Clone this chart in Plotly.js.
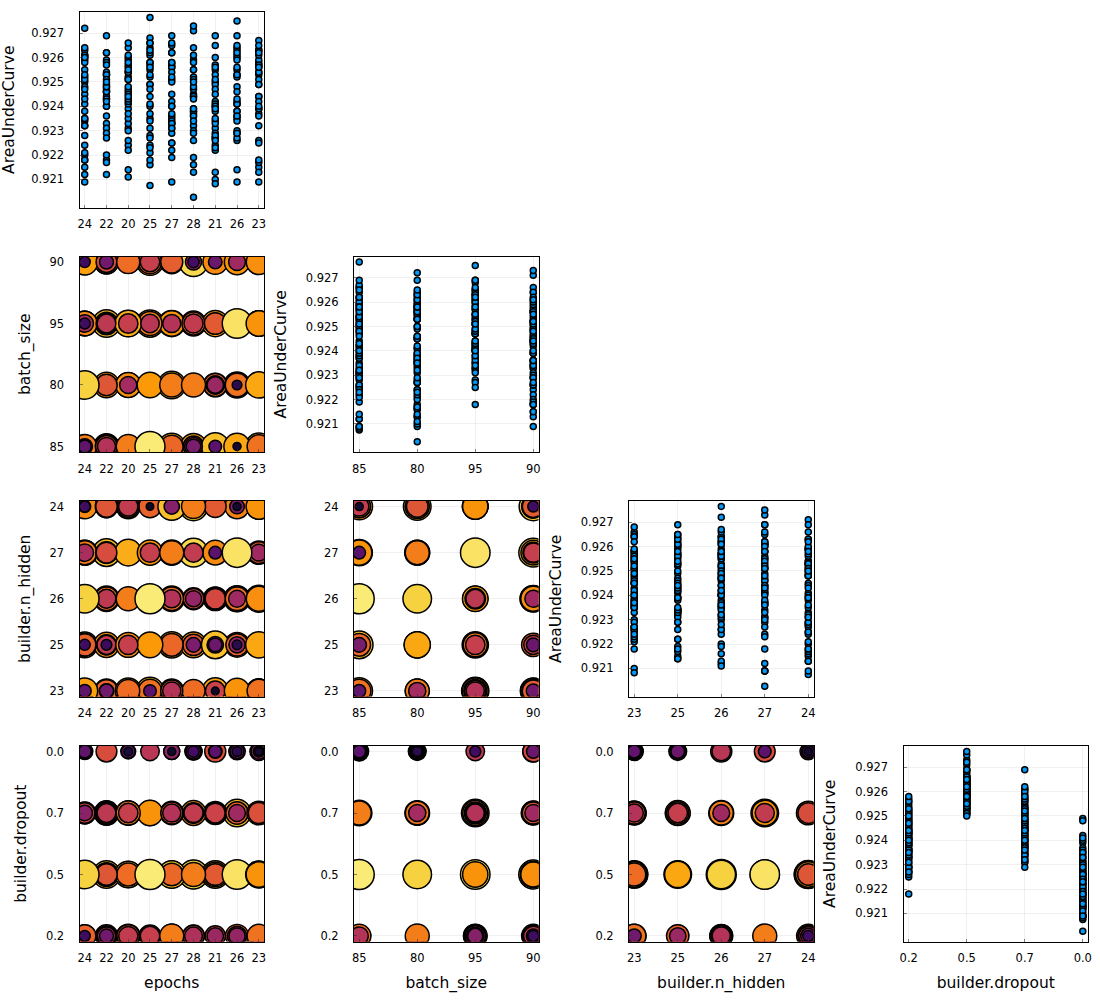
<!DOCTYPE html>
<html><head><meta charset="utf-8">
<script src="https://cdn.plot.ly/plotly-3.0.1.min.js"></script>
<style>body{margin:0;background:#fff}#chart{width:1100px;height:1000px}</style>
</head><body><div id="chart"></div>
<script>
const epochs = [23,26,21,28,27,25,20,22,24, 23,26,21,28,27,25,20,22,24, 23,26,21,28,27,25,20,22,24, 23,26,21,28,27,25,20,22,24,
 23,26,21,28,27,25,20,22,24, 23,26,21,28,27,25,20,22,24, 23,26,21,28,27,25,20,22,24, 23,26,21,28,27,25,20,22,24,
 23,26,21,28,27,25,20,22,24, 23,26,21,28,27,25,20,22,24, 23,26,21,28,27,25,20,22,24, 23,
 24,22,20,25,27,28,21,26,23,24, 22,20,25,27,28,21,26,23,24,22, 20,25,27,28,21,26,23,24,22,20, 25,27,28,21,26,23,24,22,20,25,
 27,28,21,26,23,24,22,20,25,27, 28,21,26,23,24,22,20,25,27,28, 21,26,23,24,22,20,25,27,28,21, 26,23,24,22,20,25,27,28,21,26,
 23,24,22,20,25,27,28,21,26,23, 24,22,20,25,27,28,21,26,23,24, 22,20,25,27,28,21,26,23,24,22, 20,25,27,28,21,26,23,24,22,20,
 25,27,28,21,26,23,24,22,20,25, 27,28,21,26,23,24,22,20,25,27, 28,21,26,23,24,22,20,25,27,28, 21,26,23,24,22,20,25,27,28,21,
 26,23,24,22,20,25,27,28,21,26, 23,24,22,20,25,27,28,21,26,23, 22,20,25,27,28,21,26,23,24,22, 20,25,27,28,21,26,23,24,22,24];
const batchSize = [90,95,80,85,90,95,80,85,90,95, 80,85,90,95,80,85,90,95,80,85, 90,95,80,85,90,95,80,85,90,95, 80,85,90,95,80,85,90,95,80,85,
 90,95,80,85,90,95,80,85,90,95, 80,85,90,95,80,85,90,95,80,85, 90,95,80,85,90,95,80,85,90,95, 80,85,90,95,80,85,90,95,80,85,
 90,95,80,85,90,95,80,85,90,95, 80,85,90,95,80,85,90,95,80,85,
 85,80,95,90,85,80,95,90,80,90, 85,80,95,90,85,80,95,85,80,90, 85,80,95,90,85,80,95,95,80,90, 85,80,95,90,85,90,85,95,80,90,
 85,80,95,90,85,80,90,85,95,90, 85,80,95,80,90,85,95,80,85,90, 85,80,90,95,80,90,85,95,80,90, 85,95,80,90,85,90,80,95,80,90,
 85,90,95,80,85,90,85,95,80,90, 85,80,95,80,85,90,85,95,80,95, 85,90,95,80,85,90,85,95,80,90, 85,90,95,80,85,90,80,90,95,80,
 85,90,95,80,85,90,85,80,90,95, 85,90,95,80,85,95,85,80,90,80, 85,90,95,80,90,95,85,80,90,95, 85,80,90,85,80,95,85,95,80,90,
 85,95,80,90,80,95,85,90,80,90, 85,95,85,90,80,90,85,95,80,90, 95,85,90,80,95,90,95,80,85,90, 95,85,95,80,85,90,95,90,80,80];
const nHidden = [24,27,26,25,23,24,27,26,25,23, 24,27,26,25,23,24,27,26,25,23, 24,27,26,25,23,24,27,26,25,23, 24,27,26,25,23,24,27,26,25,23,
 24,27,26,25,23,24,27,26,25,23, 24,27,26,25,23,24,27,26,25,23, 24,27,26,25,23,24,27,26,25,23, 24,27,26,25,23,24,27,26,25,23,
 24,27,26,25,23,24,27,26,25,23, 24,27,26,25,23,24,27,26,25,23,
 23,25,26,27,24,23,25,26,27,24, 26,24,23,25,27,26,24,25,27,23, 25,24,26,24,27,23,24,26,24,27, 26,23,25,24,25,26,25,27,23,25,
 27,26,23,27,24,26,25,26,24,24, 25,27,23,23,27,23,24,27,26,23, 26,24,25,23,26,25,23,27,24,25, 26,27,24,24,27,26,25,26,23,25,
 26,25,23,27,25,23,26,27,27,24, 27,27,23,26,24,27,24,26,25,24, 24,26,27,26,23,26,23,26,23,26, 23,24,25,25,25,24,26,26,25,25,
 24,27,24,24,27,23,24,23,24,25, 23,26,26,25,27,27,27,26,23,24, 24,23,25,24,23,24,24,23,26,23, 23,26,27,26,25,27,27,24,27,27,
 24,23,25,27,23,26,25,25,25,23, 23,25,26,23,25,23,25,24,25,26, 26,26,27,27,27,25,27,25,23,23, 25,26,23,24,27,26,24,24,24,26];
const dropout = [0.0,0.7,0.5,0.2,0.7,0.0,0.2,0.5,0.0,0.7, 0.5,0.2,0.2,0.5,0.0,0.7,0.2,0.5,0.0,0.7, 0.0,0.5,0.2,0.7,0.7,0.2,0.5,0.0,0.5,0.2,
 0.7,0.0,0.5,0.2,0.0,0.7,0.5,0.2,0.7,0.0, 0.2,0.5,0.0,0.7,0.2,0.5,0.7,0.0,0.2,0.5, 0.0,0.2,0.7,0.5,0.5,0.0,0.2,0.7,0.0,0.5,
 0.7,0.2,0.0,0.5,0.2,0.7,0.0,0.5,0.7,0.2, 0.5,0.0,0.7,0.2,0.0,0.5,0.2,0.7,0.5,0.0, 0.2,0.7,0.5,0.0,0.7,0.2,0.5,0.0,0.2,0.7,
 0.0,0.5,0.2,0.7,0.5,0.0,0.7,0.2,0.5,0.0,
 0.2,0.5,0.7,0.0,0.5,0.7,0.2,0.0,0.2,0.7, 0.0,0.5,0.5,0.2,0.2,0.7,0.7,0.0,0.0,0.7, 0.0,0.2,0.5,0.5,0.5,0.2,0.5,0.2,0.2,0.7,
 0.7,0.0,0.7,0.0,0.5,0.7,0.5,0.5,0.2,0.0, 0.7,0.0,0.5,0.2,0.7,0.0,0.7,0.5,0.7,0.2, 0.5,0.2,0.0,0.5,0.5,0.2,0.2,0.0,0.0,0.2,
 0.7,0.5,0.2,0.7,0.7,0.0,0.2,0.5,0.0,0.5, 0.7,0.7,0.2,0.0,0.2,0.5,0.7,0.2,0.0,0.2, 0.5,0.0,0.5,0.7,0.7,0.2,0.7,0.7,0.0,0.0,
 0.5,0.2,0.5,0.2,0.0,0.5,0.2,0.5,0.7,0.5, 0.7,0.2,0.2,0.7,0.0,0.0,0.7,0.2,0.7,0.5, 0.0,0.5,0.0,0.2,0.5,0.2,0.0,0.7,0.2,0.5,
 0.0,0.0,0.7,0.7,0.5,0.5,0.0,0.0,0.7,0.5, 0.2,0.7,0.2,0.7,0.0,0.2,0.5,0.0,0.7,0.5, 0.2,0.7,0.2,0.7,0.5,0.7,0.2,0.0,0.7,0.5,
 0.0,0.5,0.2,0.7,0.0,0.5,0.7,0.2,0.0,0.5, 0.0,0.7,0.2,0.0,0.7,0.0,0.5,0.0,0.2,0.5, 0.2,0.0,0.2,0.5,0.5,0.7,0.7,0.5,0.0,0.5,
 0.7,0.7,0.2,0.2,0.7,0.0,0.5,0.5,0.0,0.2, 0.7,0.5,0.7,0.5,0.0,0.7,0.5,0.2,0.5,0.5];
const auc = [0.9215,0.9269,0.9257,0.9238,0.9236,0.9228,0.9246,0.9262,0.9234,0.9253, 0.9253,0.9231,0.9252,0.9265,0.9221,0.9231,0.9243,0.9259,0.9239,0.9248,
 0.9213,0.9255,0.9235,0.9257,0.9239,0.9249,0.9261,0.9226,0.9252,0.9227, 0.9245,0.9231,0.9264,0.9241,0.9218,0.9250,0.9256,0.9255,0.9234,0.9237,
 0.9233,0.9258,0.9224,0.9259,0.9245,0.9263,0.9241,0.9242,0.9239,0.9251, 0.9216,0.9251,0.9246,0.9260,0.9254,0.9229,0.9229,0.9232,0.9233,0.9266,
 0.9254,0.9247,0.9220,0.9257,0.9236,0.9238,0.9236,0.9262,0.9249,0.9257, 0.9253,0.9212,0.9244,0.9242,0.9227,0.9259,0.9234,0.9261,0.9256,0.9240,
 0.9248,0.9237,0.9264,0.9222,0.9251,0.9225,0.9255,0.9230,0.9244,0.9235, 0.9217,0.9261,0.9240,0.9247,0.9258,0.9235,0.9242,0.9253,0.9263,0.9225,
 0.9241,0.9262,0.9247,0.9218,0.9266,0.9238,0.9233,0.9226,0.9249,0.9252, 0.9212,0.9259,0.9268,0.9229,0.9244,0.9255,0.9241,0.9232,0.9209,0.9258,
 0.9214,0.9227,0.9257,0.9271,0.9253,0.9238,0.9263,0.9251,0.9236,0.9233, 0.9249,0.9222,0.9261,0.9224,0.9260,0.9244,0.9255,0.9269,0.9245,0.9231,
 0.9237,0.9216,0.9265,0.9230,0.9254,0.9228,0.9246,0.9252,0.9240,0.9256, 0.9264,0.9241,0.9235,0.9258,0.9261,0.9233,0.9248,0.9224,0.9219,0.9226,
 0.9250,0.9259,0.9239,0.9243,0.9231,0.9222,0.9247,0.9262,0.9213,0.9256, 0.9238,0.9251,0.9232,0.9220,0.9254,0.9266,0.9245,0.9236,0.9210,0.9243,
 0.9267,0.9215,0.9254,0.9260,0.9234,0.9250,0.9248,0.9240,0.9227,0.9218, 0.9258,0.9246,0.9264,0.9237,0.9225,0.9273,0.9228,0.9263,0.9242,0.9260,
 0.9253,0.9235,0.9252,0.9256,0.9230,0.9249,0.9246,0.9240,0.9235,0.9257, 0.9226,0.9253,0.9233,0.9250,0.9269,0.9229,0.9213,0.9247,0.9243,0.9261,
 0.92075,0.9209,0.9244,0.9239,0.9265,0.9259,0.9221,0.9229,0.9251,0.9258, 0.9242,0.9234,0.9247,0.9253,0.9209,0.9238,0.9251,0.9211,0.9256,0.9269,
 0.9239,0.9245,0.9234,0.9257,0.9264,0.9248,0.9243,0.9223,0.9240,0.9255, 0.92082,0.9256,0.9236,0.9232,0.9217,0.9266,0.9262,0.9231,0.92027,0.9260,
 0.9209,0.9249,0.9253,0.9248,0.9237,0.9241,0.9254,0.9219,0.9235,0.9262, 0.9256,0.9218,0.9240,0.9255,0.9263,0.9252,0.9229,0.9251,0.9214,0.9261,
 0.9242,0.9258,0.9244,0.9258,0.9243,0.9226,0.9275,0.9265,0.9224,0.9227, 0.9244,0.92765,0.9240,0.9258,0.9223,0.9236,0.9262,0.9218,0.9250,0.9272];

const epochsCats = ["24","22","20","25","27","28","21","26","23"];
const batchCats = ["85","80","95","90"];
const hiddenCats = ["23","25","26","27","24"];
const dropoutCats = ["0.2","0.5","0.7","0.0"];
const aucTicks = [0.921,0.922,0.923,0.924,0.925,0.926,0.927];
const paramNames = ["epochs","batch_size","builder.n_hidden","builder.dropout"];
const measureName = "AreaUnderCurve";

const inferno = [[0,'#000004'],[0.111,'#1b0c41'],[0.222,'#4a0c6b'],[0.333,'#781c6d'],[0.444,'#a52c60'],
 [0.556,'#cf4446'],[0.667,'#ed6925'],[0.778,'#fb9b06'],[0.889,'#f7d13d'],[1,'#fcffa4']];

const FONT = 'DejaVu Sans';
const params = [
  {vals: epochs.map(String), cats: epochsCats},
  {vals: batchSize.map(String), cats: batchCats},
  {vals: nHidden.map(String), cats: hiddenCats},
  {vals: dropout.map(v => v.toFixed(1)), cats: dropoutCats}
];
const aMin = Math.min(...auc), aMax = Math.max(...auc);
const sizes = auc.map(a => 6 + 24 * (a - aMin) / (aMax - aMin));
const cmaxVal = aMin + (aMax - aMin) / 0.95;

const colX = [79.5, 354, 629, 903.5], rowY = [12, 256.5, 501, 746], PW = 184.5, PH = 195.5;
const FW = 1100, FH = 1000;

function baseAxis() {
  return {showline:true, mirror:true, linecolor:'#000', linewidth:1, showgrid:true,
    gridcolor:'rgba(0,0,0,0.1)', gridwidth:0.6, zeroline:false, ticks:'inside', ticklen:3,
    tickcolor:'#333', tickwidth:0.6, tickfont:{family:FONT, size:11.5, color:'#000'}, fixedrange:true};
}
function catAxis(cats) {
  const n = cats.length - 1;
  return Object.assign(baseAxis(), {type:'category', categoryorder:'array', categoryarray:cats,
    tickvals:cats, range:[-0.03*n, n*1.03]});
}
function aucAxis() {
  const pad = 0.03 * (aMax - aMin);
  return Object.assign(baseAxis(), {range:[aMin - pad - 0.0002, aMax + pad], tickvals:aucTicks, tickformat:'.3f'});
}

const traces = [];
const layout = {width:FW, height:FH, margin:{l:0,r:0,t:0,b:0}, paper_bgcolor:'#fff', plot_bgcolor:'#fff',
  showlegend:false, font:{family:FONT, color:'#000'}};
let k = 0;
for (let i = 0; i < 4; i++) {
  for (let j = 0; j <= i; j++) {
    k++;
    const xa = 'x' + (k === 1 ? '' : k), ya = 'y' + (k === 1 ? '' : k);
    const xname = 'xaxis' + (k === 1 ? '' : k), yname = 'yaxis' + (k === 1 ? '' : k);
    const x0 = colX[j], y0 = rowY[i];
    const dom = {x:[x0/FW, (x0+PW)/FW], y:[1-(y0+PH)/FH, 1-y0/FH]};
    const xax = catAxis(params[j].cats);
    xax.domain = dom.x; xax.anchor = ya; xax.ticklabelstandoff = 6;
    if (i === 3) xax.title = {text: paramNames[j], font:{family:FONT, size:15.5, color:'#000'}, standoff:12};
    let yax;
    if (i === j) {
      yax = aucAxis();
      yax.title = {text: measureName, font:{family:FONT, size:15.5, color:'#000'}, standoff:15};
      traces.push({type:'scatter', mode:'markers', x: params[j].vals, y: auc, xaxis:xa, yaxis:ya,
        marker:{color:'#009afa', size:6, opacity:1, line:{color:'#000', width:1.5}}, hoverinfo:'skip'});
    } else {
      yax = catAxis(params[i].cats);
      if (j === 0) yax.title = {text: paramNames[i], font:{family:FONT, size:15.5, color:'#000'}, standoff:15};
      traces.push({type:'scatter', mode:'markers', x: params[j].vals, y: params[i].vals, xaxis:xa, yaxis:ya,
        marker:{color:auc, colorscale:inferno, cmin:aMin, cmax:cmaxVal, size:sizes, sizemode:'diameter', opacity:1,
          line:{color:'#000', width:1.5}}, hoverinfo:'skip'});
    }
    yax.domain = dom.y; yax.anchor = xa; yax.ticklabelstandoff = 12;
    layout[xname] = xax; layout[yname] = yax;
  }
}
Plotly.newPlot('chart', traces, layout, {displayModeBar:false, staticPlot:true});
</script></body></html>
